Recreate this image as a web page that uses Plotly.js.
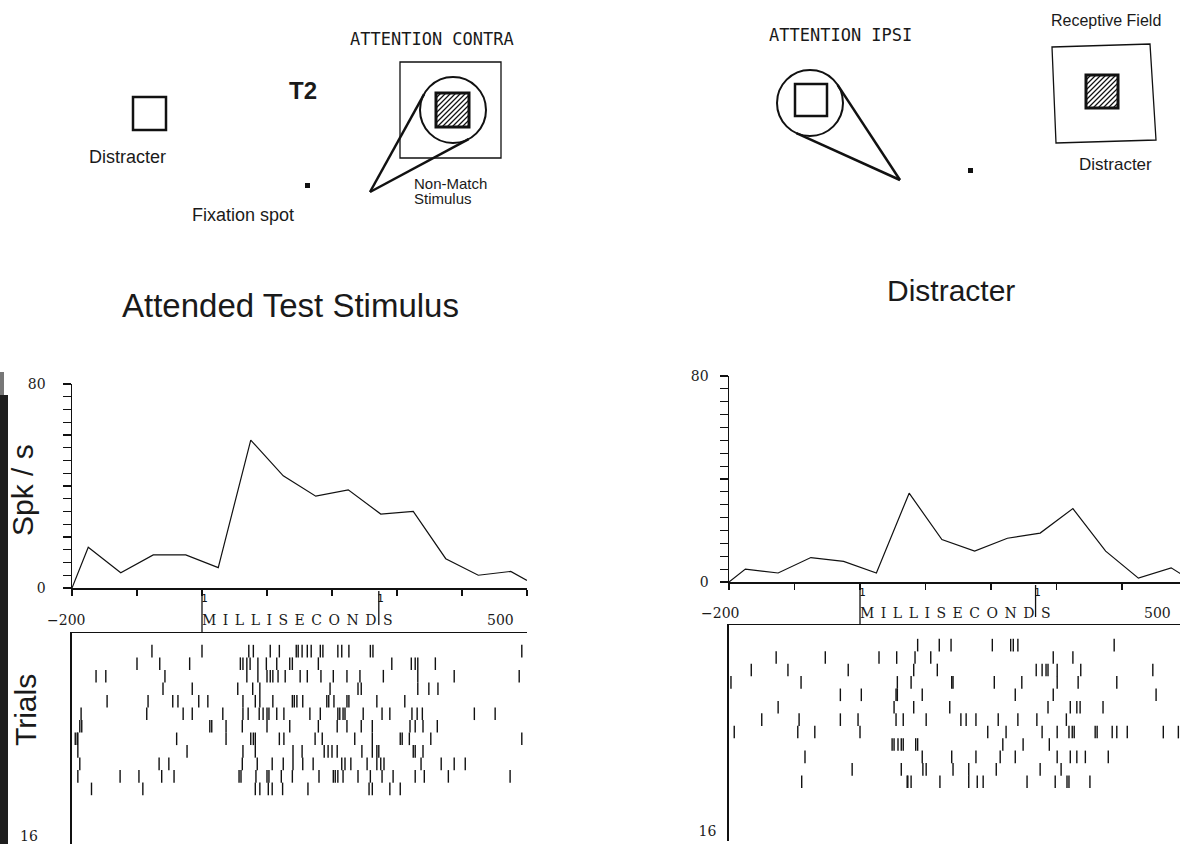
<!DOCTYPE html>
<html><head><meta charset="utf-8">
<script src="https://cdn.plot.ly/plotly-3.0.1.min.js"></script>
<style>html,body{margin:0;padding:0;background:#fff;}#chart{width:1180px;height:844px;}</style>
</head><body><div id="chart"></div>
<script>
// ---------------- data ----------------
const binTimes = [-200,-175,-125,-75,-25,25,75,125,175,225,275,325,375,425,475,500];
const attendedRate = [0,16,6,13,13,8,58,44,36,38.5,29,30,11.5,5,6.5,3];
const distracterRate = [0,5,3.5,9.5,8,3.5,34.5,16.5,12,17,19,28.5,12,1.5,5.5,1.5];
const timeTicks = [-200,-100,0,100,200,300,400,500];
const rateTicks = [0,5,10,15,20,25,30,35,40,45,50,55,60,65,70,75,80];
const rateTickText = ["0","","","","","","","","","","","","","","","","80"];
const trialTickVals = [16];
const trialTickText = ["16"];
const eventMarksAttended = [0, 272];
const eventMarksDistracter = [0, 268];
const attendedTrials = [
  [-77,0,72,79,105,119,145,148,154,162,168,182,186,209,215,226,259,263,492],
  [-100,-65,-19,59,63,69,74,86,99,115,135,139,179,292,322,328,332,359],
  [-163,-148,-57,69,86,100,105,109,117,128,151,162,183,202,223,243,279,332,388,488],
  [-60,-15,55,78,89,197,240,245,332,349,363],
  [-146,-83,-45,-37,-5,9,63,82,89,109,139,142,146,155,192,195,203,223,226,269,312],
  [-186,-85,-29,-15,32,63,71,88,94,100,103,115,126,166,182,209,212,217,220,248,277,289,323,331,339,419,451],
  [-188,-185,12,15,37,62,100,135,179,208,223,245,262,320,328,340,362],
  [-195,-192,-191,-39,37,75,79,82,119,126,174,185,235,262,305,308,319,352,492],
  [-191,-23,63,82,140,154,188,194,200,208,246,262,269,272,325,328,340],
  [-188,-66,-51,62,85,108,125,140,155,171,215,220,229,254,269,275,280,337,368,388,405],
  [-191,-126,-97,-62,-43,57,60,83,100,103,122,139,180,202,205,209,217,240,259,277,294,328,342,379,474],
  [-170,-91,82,89,102,108,124,163,257,262,289,305]
];
const distracterTrials = [
  [88,121,139,202,230,234,241,388],
  [-128,-53,29,56,84,108,295,325],
  [-166,-110,-18,82,118,269,278,284,287,301,337,447],
  [-197,-90,57,78,140,142,205,247,301,333,392],
  [-30,2,55,57,95,237,295,452],
  [-125,52,82,137,287,321,331,336,371],
  [-150,-93,-30,-3,55,66,101,154,162,177,211,241,270,315],
  [-192,-95,-69,0,195,223,278,301,319,324,327,359,362,385,392,408,463,486],
  [49,52,58,63,66,85,88,218,249,289],
  [-84,95,140,177,214,237,301,321,331,344,379],
  [-12,63,96,101,142,166,208,275,307],
  [-89,72,73,78,122,166,179,188,255,298,316,319,351]
];

// ---------------- helpers ----------------
const W = 1180, H = 844;
const X = p => p / W;
const Y = p => 1 - p / H;
const INK = '#111';
const SERIF = 'DejaVu Serif';
const SANS = 'Liberation Sans';

function rasterTrace(trials, xa, ya) {
  const xs = [], ys = [];
  trials.forEach((row, i) => row.forEach(t => { xs.push(t); ys.push(i + 1); }));
  return {x: xs, y: ys, xaxis: xa, yaxis: ya, type: 'scatter', mode: 'markers',
    marker: {symbol: 'line-ns-open', size: 9, color: INK, line: {color: INK, width: 1.4}},
    hoverinfo: 'skip', showlegend: false, cliponaxis: false};
}

const traces = [
  {x: binTimes, y: attendedRate, xaxis: 'x', yaxis: 'y', type: 'scatter', mode: 'lines',
   line: {color: INK, width: 1.2}, showlegend: false, hoverinfo: 'skip'},
  rasterTrace(attendedTrials, 'x2', 'y2'),
  {x: binTimes, y: distracterRate, xaxis: 'x3', yaxis: 'y3', type: 'scatter', mode: 'lines',
   line: {color: INK, width: 1.2}, showlegend: false, hoverinfo: 'skip'},
  rasterTrace(distracterTrials, 'x4', 'y4')
];

const histX = (dom, range, anchor) => ({domain: dom, range: range, anchor: anchor,
  showline: true, linecolor: INK, linewidth: 1.5, ticks: 'outside', ticklen: 6, tickwidth: 1.2,
  tickcolor: INK, tickvals: timeTicks, showticklabels: false, showgrid: false, zeroline: false});
const histY = (dom, anchor, standoff) => ({domain: dom, range: [0, 80], anchor: anchor,
  showline: true, linecolor: INK, linewidth: 1.5, ticks: 'outside', ticklen: 8, tickwidth: 1.2,
  tickcolor: INK, tickvals: rateTicks, ticktext: rateTickText, ticklabelstandoff: standoff,
  tickfont: {family: SERIF, size: 14, color: '#222'}, showgrid: false, zeroline: false});
const rastX = (dom, range, anchor) => ({domain: dom, range: range, anchor: anchor, side: 'top',
  showline: true, linecolor: INK, linewidth: 1.5, ticks: '', showticklabels: false,
  showgrid: false, zeroline: false});
const rastY = (dom, range, anchor, standoff, labels) => ({domain: dom, range: range, anchor: anchor,
  showline: true, linecolor: INK, linewidth: 1.8, ticks: '', tickvals: labels ? trialTickVals : [],
  ticktext: labels ? trialTickText : [], ticklabelstandoff: standoff,
  tickfont: {family: SERIF, size: 14, color: '#222'}, showgrid: false, zeroline: false});

const shapes = [];
const annotations = [];
function txt(text, cx, cy, size, family, extra) {
  annotations.push(Object.assign({text: text, x: X(cx), y: Y(cy), xref: 'paper', yref: 'paper',
    showarrow: false, xanchor: 'center', yanchor: 'middle',
    font: {family: family || SANS, size: size, color: '#1a1a1a'}}, extra || {}));
}
function line(x0, y0, x1, y1, w) {
  shapes.push({type: 'line', xref: 'paper', yref: 'paper', x0: X(x0), y0: Y(y0), x1: X(x1), y1: Y(y1),
    line: {color: INK, width: w}});
}
function rect(x0, y0, x1, y1, w, fill) {
  shapes.push({type: 'rect', xref: 'paper', yref: 'paper', x0: X(x0), y0: Y(y1), x1: X(x1), y1: Y(y0),
    line: {color: INK, width: w}, fillcolor: fill || 'rgba(0,0,0,0)'});
}
function circle(cx, cy, r, w) {
  shapes.push({type: 'circle', xref: 'paper', yref: 'paper', x0: X(cx - r), x1: X(cx + r),
    y0: Y(cy + r), y1: Y(cy - r), line: {color: INK, width: w}});
}
function hatched(x0, y0, x1, y1) {
  let d = '';
  const step = 5;
  for (let c = x0 + y0 + step; c < x1 + y1; c += step) {
    let ax = Math.max(x0, c - y1), ay = c - ax;
    let bx = Math.min(x1, c - y0), by = c - bx;
    d += `M ${X(ax)} ${Y(ay)} L ${X(bx)} ${Y(by)} `;
  }
  shapes.push({type: 'path', xref: 'paper', yref: 'paper', path: d, line: {color: INK, width: 1.2}});
  rect(x0, y0, x1, y1, 3);
}
function cone(cx, cy, r, px, py) {
  const dx = px - cx, dy = py - cy, d = Math.hypot(dx, dy);
  const a = Math.atan2(dy, dx), b = Math.acos(r / d);
  [a + b, a - b].forEach(t => line(px, py, cx + r * Math.cos(t), cy + r * Math.sin(t), 2.5));
}

// scanned edge strip on the left
shapes.push({type: 'rect', xref: 'paper', yref: 'paper', x0: 0, x1: X(8), y0: 0, y1: Y(395),
  line: {width: 0}, fillcolor: '#1e1e1e'});
shapes.push({type: 'rect', xref: 'paper', yref: 'paper', x0: 0, x1: X(4), y0: Y(395), y1: Y(372),
  line: {width: 0}, fillcolor: '#777'});

// ---- top-left diagram ----
txt('ATTENTION CONTRA', 432, 39, 17, 'DejaVu Sans Mono');
txt('<b>T2</b>', 303, 90, 24);
rect(133, 97, 166, 130, 2.5);
txt('Distracter', 127, 157, 18);
rect(305, 183, 310, 188, 0, INK);
txt('Fixation spot', 243, 215, 18);
rect(400, 62, 501, 158, 1.3);
circle(453, 110, 33, 2);
hatched(436, 93, 469, 127);
cone(453, 110, 33, 370, 192);
txt('Non-Match', 412, 183, 15, SANS, {xanchor: 'left'});
txt('Stimulus', 412, 198, 15, SANS, {xanchor: 'left'});

// ---- top-right diagram ----
txt('ATTENTION IPSI', 840, 35, 17, 'DejaVu Sans Mono');
circle(810, 103, 33, 2);
rect(795, 84, 827, 116, 2.5);
cone(810, 103, 33, 900, 180);
rect(968, 168, 973, 173, 0, INK);
txt('Receptive Field', 1106, 20, 16);
shapes.push({type: 'path', xref: 'paper', yref: 'paper',
  path: `M ${X(1052)} ${Y(47)} L ${X(1150)} ${Y(44)} L ${X(1156)} ${Y(140)} L ${X(1056)} ${Y(143)} Z`,
  line: {color: INK, width: 1.3}});
hatched(1086, 75, 1118, 108);
txt('Distracter', 1115, 165, 17);

// ---- panel titles ----
txt('Attended Test Stimulus', 290, 305, 33);
txt('Distracter', 951, 290, 30);
txt('Spk / s', 22, 490, 30, SANS, {textangle: -90});
txt('Trials', 25, 710, 30, SANS, {textangle: -90});
txt('16', 29, 836, 14, SERIF);

// ---- time axis labels and event marks ----
function timeLabels(xa, yLab, marks, yTop, yRaster, minusX, fiveX) {
  txt('\u2212200', minusX, yLab, 14, SERIF);
  txt('500', fiveX, yLab, 14, SERIF);
  annotations.push({text: '<span style="letter-spacing:6.5px">MILLISECONDS</span>', x: marks[0], y: Y(yLab),
    xref: xa, yref: 'paper', showarrow: false, xanchor: 'left', yanchor: 'middle', xshift: -2,
    font: {family: SERIF, size: 14, color: '#1a1a1a'}});
  marks.forEach((m, i) => {
    shapes.push({type: 'line', xref: xa, yref: 'paper', x0: m, x1: m,
      y0: Y(yTop), y1: Y(i === 0 ? yRaster : yRaster - 8), line: {color: INK, width: 1.3}});
    annotations.push({text: '1', x: m, y: Y(yTop + 7), xref: xa, yref: 'paper', showarrow: false,
      xanchor: 'center', yanchor: 'middle', xshift: 2, font: {family: 'DejaVu Sans Mono', size: 11, color: INK}});
  });
}
timeLabels('x', 620, eventMarksAttended, 591, 633, 66, 500);
timeLabels('x3', 613, eventMarksDistracter, 585, 625, 720, 1157);

const layout = {
  width: W, height: H, margin: {l: 0, r: 0, t: 0, b: 0},
  paper_bgcolor: '#fff', plot_bgcolor: 'rgba(0,0,0,0)', showlegend: false,
  font: {family: SANS, color: INK},
  xaxis: histX([X(72), X(527)], [-200, 500], 'y'),
  yaxis: histY([Y(588), Y(384)], 'x', 14),
  xaxis2: rastX([X(72), X(527)], [-200, 500], 'y2'),
  yaxis2: rastY([Y(844), Y(633)], [16.4, -0.45], 'x2', 24, false),
  xaxis3: histX([X(729), 1], [-200, 488.5], 'y3'),
  yaxis3: histY([Y(582), Y(376)], 'x3', 8),
  xaxis4: rastX([X(729), 1], [-200, 488.5], 'y4'),
  yaxis4: rastY([Y(841), Y(625)], [16.77, -0.62], 'x4', 8, true),
  shapes: shapes,
  annotations: annotations
};

Plotly.newPlot('chart', traces, layout, {staticPlot: true, displayModeBar: false});
</script>
</body></html>
